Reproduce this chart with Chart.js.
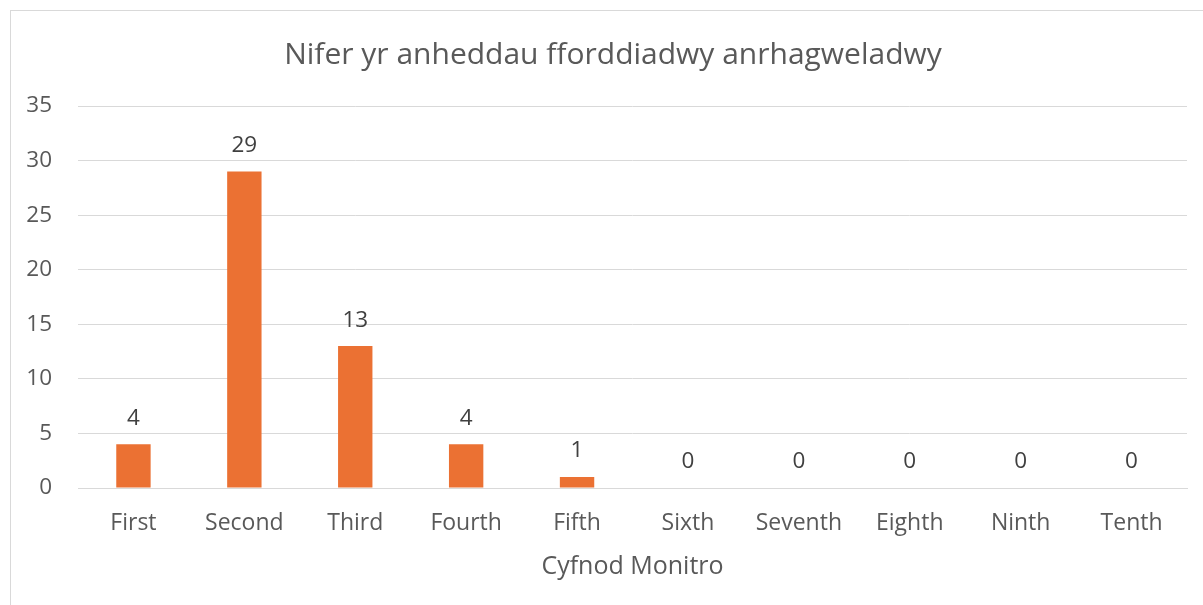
<!DOCTYPE html>
<html>
<head>
<meta charset="utf-8">
<script src="https://cdn.jsdelivr.net/npm/chart.js@4/dist/chart.umd.min.js"></script>
<style>
  html, body { margin: 0; padding: 0; background: #fff; }
  #wrap { position: relative; width: 1203px; height: 605px; overflow: hidden; }
  #frame { position: absolute; left: 10px; top: 10px; width: 1300px; height: 700px;
           border: 1px solid #d9d9d9; box-sizing: border-box; }
  canvas { position: absolute; left: 0; top: 0; }
</style>
</head>
<body>
<div id="wrap">
  <div id="frame"></div>
  <canvas id="chart" width="1203" height="605"></canvas>
</div>
<script>
"use strict";

var chartTitle = 'Nifer yr anheddau fforddiadwy anrhagweladwy';
var axisTitle = 'Cyfnod Monitro';
var categories = ['First', 'Second', 'Third', 'Fourth', 'Fifth', 'Sixth', 'Seventh', 'Eighth', 'Ninth', 'Tenth'];
var dwellings = [4, 29, 13, 4, 1, 0, 0, 0, 0, 0];
var yMax = 35;
var yStep = 5;

var fontFamily = '"Open Sans", "Noto Sans", sans-serif';
var textColor = '#595959';
var gridColor = '#d9d9d9';

// value labels above each bar
var valueLabels = {
    id: 'valueLabels',
    afterDatasetsDraw: function(chart) {
        var ctx = chart.ctx;
        var meta = chart.getDatasetMeta(0);
        ctx.save();
        ctx.font = '22.5px ' + fontFamily;
        ctx.fillStyle = '#404040';
        ctx.textAlign = 'center';
        ctx.textBaseline = 'middle';
        meta.data.forEach(function(bar, i) {
            ctx.fillText(String(dwellings[i]), bar.x, bar.y - 26);
        });
        ctx.restore();
    }
};

// chart title, centred on the outer chart box rather than the canvas
var boxTitle = {
    id: 'boxTitle',
    afterDraw: function(chart) {
        var ctx = chart.ctx;
        ctx.save();
        ctx.font = '30px ' + fontFamily;
        ctx.fillStyle = textColor;
        ctx.textAlign = 'center';
        ctx.textBaseline = 'middle';
        ctx.fillText(chartTitle, 613, 55);
        ctx.restore();
    }
};

new Chart(document.getElementById('chart'), {
    type: 'bar',
    data: {
        labels: categories,
        datasets: [{
            data: dwellings,
            backgroundColor: '#EB7133',
            borderWidth: 0,
            categoryPercentage: 1,
            barPercentage: 0.31
        }]
    },
    options: {
        responsive: false,
        animation: false,
        layout: { padding: { left: 0, right: 16, top: 106, bottom: 0 } },
        plugins: {
            legend: { display: false },
            tooltip: { enabled: false },
            title: { display: false }
        },
        scales: {
            x: {
                grid: { display: false, drawTicks: false },
                border: { display: true, color: gridColor, width: 1 },
                ticks: {
                    color: textColor,
                    font: { family: fontFamily, size: 23 },
                    padding: 22,
                    maxRotation: 0
                },
                title: {
                    display: true,
                    text: axisTitle,
                    color: textColor,
                    font: { family: fontFamily, size: 25 },
                    padding: { top: 4, bottom: 23 }
                },
                afterFit: function(scale) { scale.height = 117; }
            },
            y: {
                min: 0,
                max: yMax,
                grid: { color: gridColor, lineWidth: 1, drawTicks: false },
                border: { display: false },
                ticks: {
                    stepSize: yStep,
                    color: textColor,
                    font: { family: fontFamily, size: 22.5 },
                    padding: 26
                },
                afterFit: function(scale) { scale.width = 78; }
            }
        }
    },
    plugins: [valueLabels, boxTitle]
});
</script>
</body>
</html>
